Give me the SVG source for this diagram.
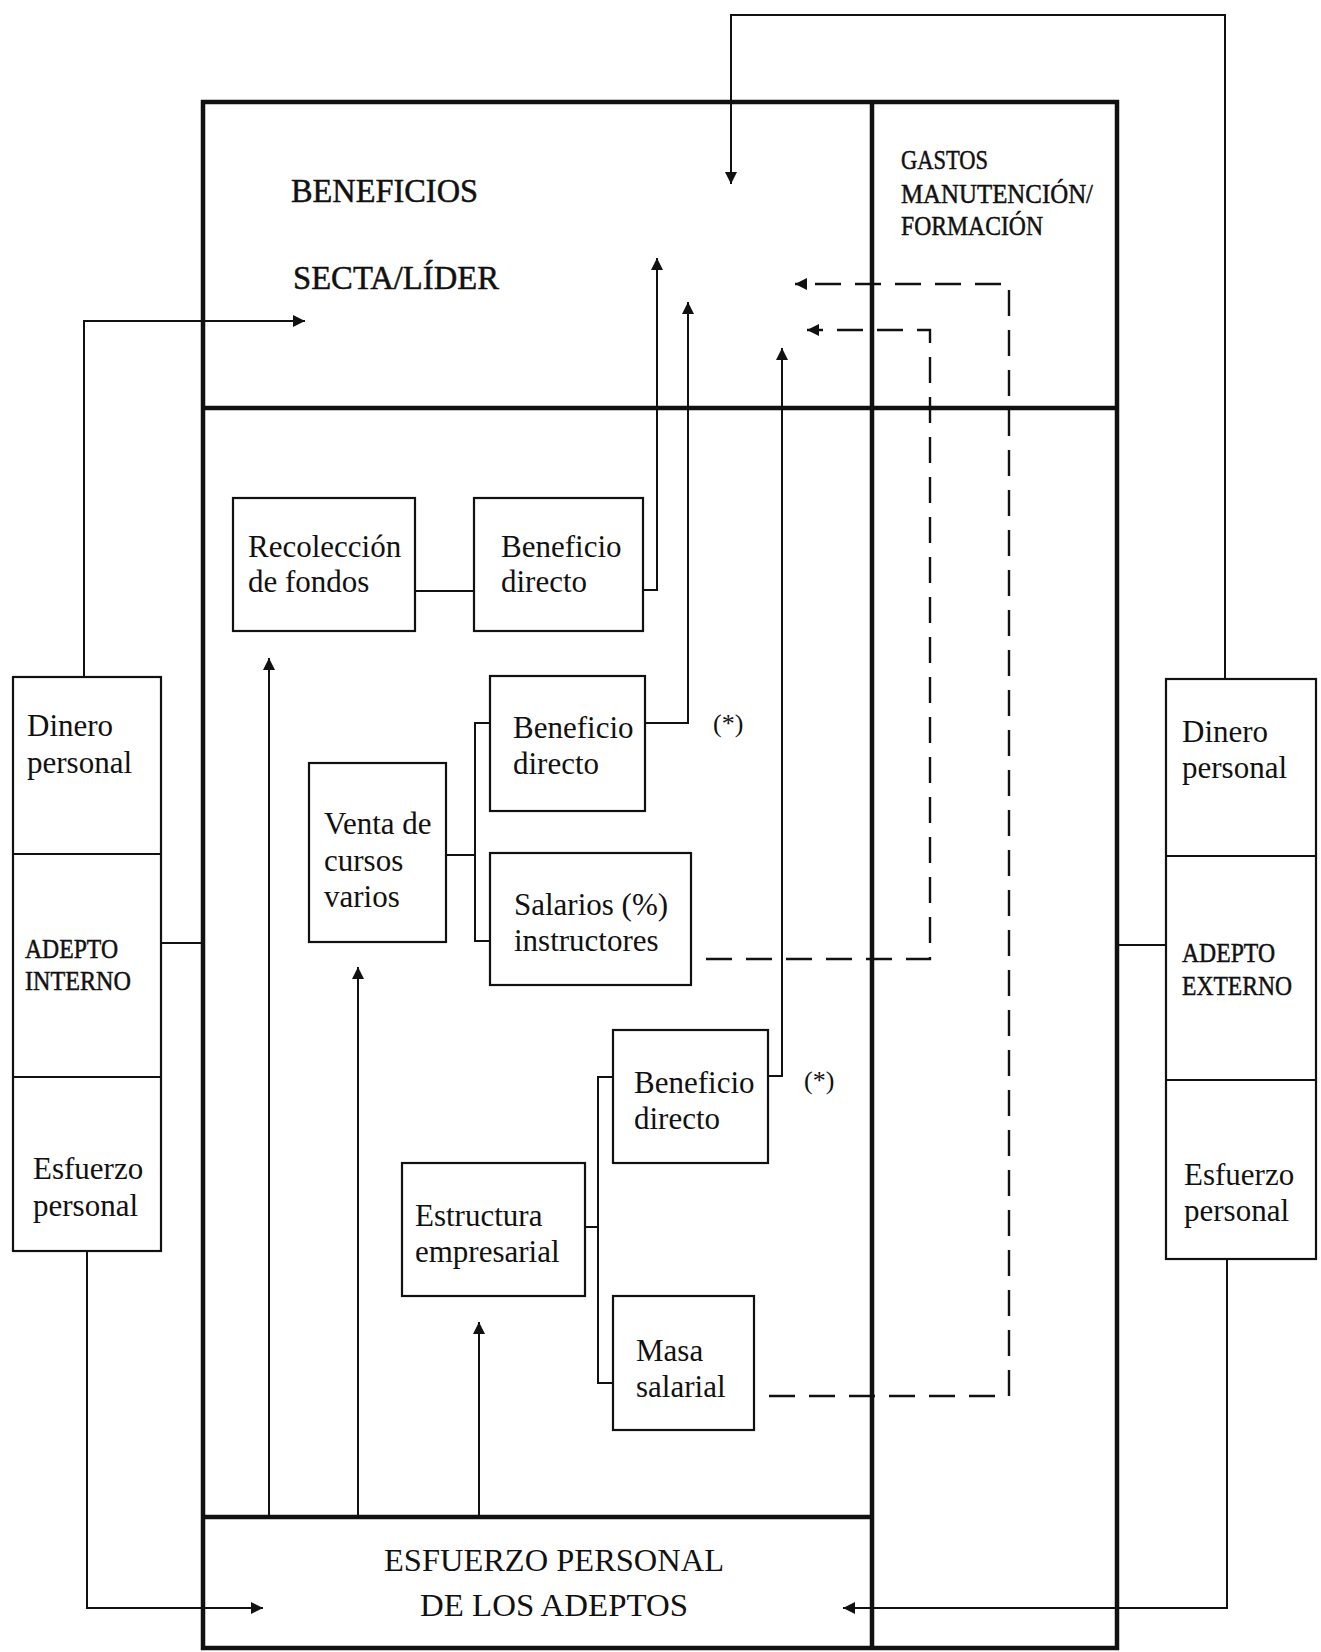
<svg xmlns="http://www.w3.org/2000/svg" width="1321" height="1652" viewBox="0 0 1321 1652">
<style>
.frame{fill:none;stroke:#111;stroke-width:4.5}
.box{fill:#fff;stroke:#111;stroke-width:2.2}
.ln{fill:none;stroke:#111;stroke-width:2}
.dash{fill:none;stroke:#111;stroke-width:2.4;stroke-dasharray:26 14}
text{font-family:"Liberation Serif","Times New Roman",serif;fill:#111}
.t{font-size:31px}
.cap{font-size:34px;stroke:#111;stroke-width:0.5}
.sm{font-size:28px;stroke:#111;stroke-width:0.5}
.ast{font-size:26px}
</style>
<defs>
<marker id="ah" viewBox="0 0 10 10" refX="10" refY="5" markerWidth="20" markerHeight="12" markerUnits="userSpaceOnUse" orient="auto"><path d="M0,0 L10,5 L0,10 z" fill="#111"/></marker>
</defs>
<rect width="1321" height="1652" fill="#fff"/>

<g id="frame">
<rect class="frame" x="203" y="102" width="914" height="1546"/>
<line class="frame" x1="872" y1="102" x2="872" y2="1648"/>
<line class="frame" x1="203" y1="408" x2="1117" y2="408"/>
<line class="frame" x1="203" y1="1517" x2="872" y2="1517"/>
</g>

<g id="beneficios">
<text class="cap" x="291" y="202" textLength="187" lengthAdjust="spacingAndGlyphs">BENEFICIOS</text>
<text class="cap" x="293" y="289" textLength="206" lengthAdjust="spacingAndGlyphs">SECTA/LÍDER</text>
</g>
<g id="gastos">
<text class="sm" x="901" y="169" textLength="87" lengthAdjust="spacingAndGlyphs">GASTOS</text>
<text class="sm" x="901" y="203" textLength="192" lengthAdjust="spacingAndGlyphs">MANUTENCIÓN/</text>
<text class="sm" x="901" y="235" textLength="142" lengthAdjust="spacingAndGlyphs">FORMACIÓN</text>
</g>
<g id="esfuerzo-adeptos">
<text class="t" x="554" y="1571" text-anchor="middle" textLength="340" lengthAdjust="spacingAndGlyphs">ESFUERZO PERSONAL</text>
<text class="t" x="554" y="1616" text-anchor="middle" textLength="268" lengthAdjust="spacingAndGlyphs">DE LOS ADEPTOS</text>
</g>

<g id="recoleccion">
<rect class="box" x="233" y="498" width="182" height="133"/>
<text class="t" x="248" y="557">Recolección</text>
<text class="t" x="248" y="592">de fondos</text>
</g>
<g id="beneficio1">
<rect class="box" x="474" y="498" width="169" height="133"/>
<text class="t" x="501" y="557">Beneficio</text>
<text class="t" x="501" y="592">directo</text>
</g>
<g id="beneficio2">
<rect class="box" x="490" y="676" width="155" height="135"/>
<text class="t" x="513" y="738">Beneficio</text>
<text class="t" x="513" y="774">directo</text>
</g>
<g id="venta">
<rect class="box" x="309" y="763" width="137" height="179"/>
<text class="t" x="324" y="834">Venta de</text>
<text class="t" x="324" y="871">cursos</text>
<text class="t" x="324" y="907">varios</text>
</g>
<g id="salarios">
<rect class="box" x="490" y="853" width="201" height="132"/>
<text class="t" x="514" y="915">Salarios (%)</text>
<text class="t" x="514" y="951">instructores</text>
</g>
<g id="beneficio3">
<rect class="box" x="613" y="1030" width="155" height="133"/>
<text class="t" x="634" y="1093">Beneficio</text>
<text class="t" x="634" y="1129">directo</text>
</g>
<g id="estructura">
<rect class="box" x="402" y="1163" width="183" height="133"/>
<text class="t" x="415" y="1226">Estructura</text>
<text class="t" x="415" y="1262">empresarial</text>
</g>
<g id="masa">
<rect class="box" x="613" y="1296" width="141" height="134"/>
<text class="t" x="636" y="1361">Masa</text>
<text class="t" x="636" y="1397">salarial</text>
</g>

<g id="adepto-interno">
<rect class="box" x="13" y="677" width="148" height="574"/>
<line class="ln" x1="13" y1="854" x2="161" y2="854"/>
<line class="ln" x1="13" y1="1077" x2="161" y2="1077"/>
<text class="t" x="27" y="736">Dinero</text>
<text class="t" x="27" y="773">personal</text>
<text class="sm" x="25" y="958" textLength="93" lengthAdjust="spacingAndGlyphs">ADEPTO</text>
<text class="sm" x="25" y="990" textLength="106" lengthAdjust="spacingAndGlyphs">INTERNO</text>
<text class="t" x="33" y="1179">Esfuerzo</text>
<text class="t" x="33" y="1216">personal</text>
</g>
<g id="adepto-externo">
<rect class="box" x="1166" y="679" width="150" height="580"/>
<line class="ln" x1="1166" y1="856" x2="1316" y2="856"/>
<line class="ln" x1="1166" y1="1080" x2="1316" y2="1080"/>
<text class="t" x="1182" y="742">Dinero</text>
<text class="t" x="1182" y="778">personal</text>
<text class="sm" x="1182" y="962" textLength="93" lengthAdjust="spacingAndGlyphs">ADEPTO</text>
<text class="sm" x="1182" y="995" textLength="110" lengthAdjust="spacingAndGlyphs">EXTERNO</text>
<text class="t" x="1184" y="1185">Esfuerzo</text>
<text class="t" x="1184" y="1221">personal</text>
</g>

<g id="notes">
<text class="ast" x="713" y="732">(*)</text>
<text class="ast" x="804" y="1089">(*)</text>
</g>

<g id="connectors">
<path class="ln" d="M1225,679 V15 H731 V184" marker-end="url(#ah)"/>
<path class="ln" d="M84,677 V321 H305" marker-end="url(#ah)"/>
<path class="ln" d="M87,1251 V1608 H263" marker-end="url(#ah)"/>
<path class="ln" d="M1227,1259 V1608 H843" marker-end="url(#ah)"/>
<line class="ln" x1="161" y1="943" x2="203" y2="943"/>
<line class="ln" x1="1117" y1="945" x2="1166" y2="945"/>
<line class="ln" x1="415" y1="591" x2="474" y2="591"/>
<path class="ln" d="M643,590 H657 V258" marker-end="url(#ah)"/>
<path class="ln" d="M645,723 H688 V302" marker-end="url(#ah)"/>
<path class="ln" d="M768,1076 H782 V348" marker-end="url(#ah)"/>
<path class="ln" d="M446,855 H475 M490,723 H475 V941 H490"/>
<path class="ln" d="M585,1227 H598 M613,1077 H598 V1383 H613"/>
<path class="ln" d="M269,1517 V658" marker-end="url(#ah)"/>
<path class="ln" d="M358,1517 V967" marker-end="url(#ah)"/>
<path class="ln" d="M479,1517 V1322" marker-end="url(#ah)"/>
<path class="dash" d="M706,959 H930 V330 H807" marker-end="url(#ah)"/>
<path class="dash" d="M769,1396 H1009 V284 H795" marker-end="url(#ah)"/>
</g>
</svg>
